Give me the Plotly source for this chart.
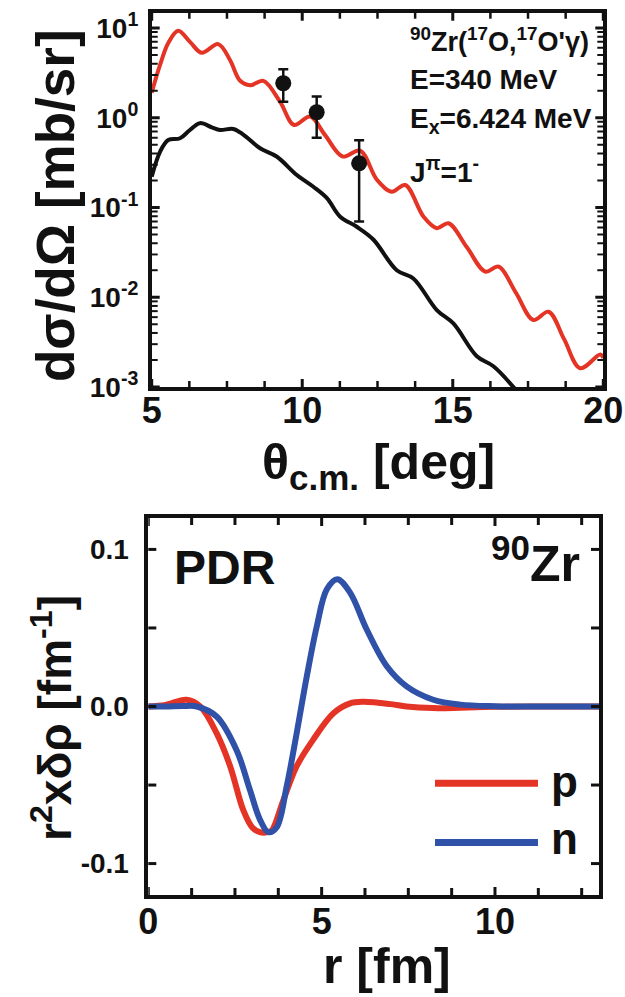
import plotly.graph_objects as go

W, H = 625, 997

# ---- upper panel: angular distribution 90Zr(17O,17O'g), E=340 MeV, Ex=6.424 MeV, J^pi=1- ----
theta_red = [5.00, 5.28, 5.55, 5.88, 6.27, 6.66, 7.21, 7.60, 7.93, 8.27, 8.71, 9.26,
             9.73, 10.26, 10.76, 11.34, 11.92, 12.48, 12.97, 13.42, 14.03, 14.47,
             14.86, 15.47, 16.08, 16.52, 17.10, 17.68, 18.18, 18.70, 19.23, 19.90, 20.00]
sigma_red = [1.9, 3.9, 6.8, 9.3, 7.0, 5.3, 6.6, 4.4, 2.6, 2.3, 2.57, 1.51,
             0.83, 1.03, 0.64, 0.37, 0.43, 0.204, 0.15, 0.178, 0.079, 0.0588,
             0.0667, 0.036, 0.0193, 0.0219, 0.0112, 0.00557, 0.0069, 0.0034, 0.00162, 0.0023, 0.0021]

theta_black = [5.00, 5.28, 5.55, 5.94, 6.25, 6.60, 7.00, 7.27, 7.71, 8.05, 8.60, 9.15,
               9.82, 10.37, 10.82, 11.26, 11.81, 12.36, 13.14, 13.69, 14.47, 15.02,
               15.80, 16.35, 17.07]
sigma_black = [0.22, 0.42, 0.565, 0.59, 0.72, 0.87, 0.78, 0.73, 0.75, 0.645, 0.457, 0.37,
               0.23, 0.17, 0.127, 0.079, 0.061, 0.044, 0.020, 0.0162, 0.0072, 0.0051,
               0.0022, 0.0017, 0.00095]

theta_exp = [9.37, 10.48, 11.89]
sigma_exp = [2.42, 1.15, 0.31]
err_plus = [1.05, 0.57, 0.25]
err_minus = [0.91, 0.55, 0.24]

theta_ticks = [5, 10, 15, 20]
y_tick_vals = [1e-3, 1e-2, 1e-1, 1e0, 1e1]
y_tick_text = ["10<sup>-3</sup>", "10<sup>-2</sup>", "10<sup>-1</sup>", "10<sup>0</sup>", "10<sup>1</sup>"]

# ---- lower panel: PDR transition densities in 90Zr ----
r_p = [0.0, 0.5, 1.1, 1.5, 1.97, 2.36, 2.74, 3.00, 3.22, 3.45, 3.56, 3.89, 4.28,
       4.76, 5.34, 5.82, 6.20, 7.00, 7.45, 8.20, 9.00, 10.0, 11.0, 13.0]
rho_p = [0.0, 0.001, 0.0043, 0.0, -0.017, -0.038, -0.066, -0.077, -0.080, -0.080, -0.079,
         -0.060, -0.038, -0.021, -0.0043, 0.002, 0.003, 0.0015, 0.0, -0.001, -0.0008,
         -0.0002, 0.0, 0.0]

r_n = [0.0, 0.5, 1.0, 1.4, 1.97, 2.55, 2.93, 3.22, 3.46, 3.70, 3.99, 4.28, 4.57,
       4.86, 5.15, 5.45, 5.82, 6.30, 6.88, 7.45, 8.22, 9.0, 10.0, 11.0, 13.0]
rho_n = [0.0, 0.0, 0.0003, 0.0, -0.0064, -0.028, -0.053, -0.072, -0.080, -0.077, -0.051,
         -0.017, 0.019, 0.051, 0.0746, 0.081, 0.0725, 0.049, 0.0256, 0.0128, 0.0043,
         0.0012, 0.0002, 0.0, 0.0]

r_ticks = [0, 5, 10]
rho_tick_vals = [-0.1, 0.0, 0.1]
rho_tick_text = ["-0.1", "0.0", "0.1"]

RED = "rgb(228,52,37)"
BLUE = "rgb(47,82,168)"
BLACK = "rgb(17,17,17)"
FONT = "Liberation Sans"

# minor tick positions (quarter steps between labelled ticks, 2..9 within each decade)
theta_minor = [5 + 1.25 * k for k in range(13) if k % 4 != 0]
r_minor = [1.25 * k for k in range(11) if k % 4 != 0]
log_minor = [k * 10 ** e for e in range(-3, 1) for k in range(2, 10)]
rho_minor = [-0.05, 0.05]


def px(x):
    return x / W


def py(y):
    return 1 - y / H


fig = go.Figure()

fig.add_trace(go.Scatter(x=theta_red, y=sigma_red, mode="lines",
                         line=dict(color=RED, width=4, shape="spline", smoothing=1.0),
                         xaxis="x", yaxis="y", showlegend=False))
fig.add_trace(go.Scatter(x=theta_black, y=sigma_black, mode="lines",
                         line=dict(color=BLACK, width=4, shape="spline", smoothing=1.0),
                         xaxis="x", yaxis="y", showlegend=False))
fig.add_trace(go.Scatter(x=theta_exp, y=sigma_exp, mode="markers",
                         marker=dict(color=BLACK, size=16, symbol="circle"),
                         error_y=dict(type="data", symmetric=False, array=err_plus,
                                      arrayminus=err_minus, color=BLACK, thickness=2.5, width=5),
                         xaxis="x", yaxis="y", showlegend=False))

fig.add_trace(go.Scatter(x=r_p, y=rho_p, mode="lines", name="p",
                         line=dict(color=RED, width=6, shape="spline", smoothing=1.0),
                         xaxis="x2", yaxis="y2", showlegend=False))
fig.add_trace(go.Scatter(x=r_n, y=rho_n, mode="lines", name="n",
                         line=dict(color=BLUE, width=6, shape="spline", smoothing=1.0),
                         xaxis="x2", yaxis="y2", showlegend=False))

axis_common = dict(showline=True, linecolor=BLACK, linewidth=3.5, mirror=True, ticks="",
                   showgrid=False, zeroline=False, automargin=False)

tick_font_x = dict(family=FONT, size=36, weight="bold", color=BLACK)
tick_font_y = dict(family=FONT, size=28, weight="bold", color=BLACK)

fig.update_layout(
    width=W, height=H,
    margin=dict(l=0, r=0, t=0, b=0, autoexpand=False),
    paper_bgcolor="white", plot_bgcolor="white",
    font=dict(family=FONT, color=BLACK, weight="bold"),
    xaxis=dict(domain=[px(151.7), px(603.3)], range=[5, 20], anchor="y",
               tickvals=theta_ticks, ticktext=[str(v) for v in theta_ticks],
               tickfont=tick_font_x, ticklabelstandoff=-11, **axis_common),
    yaxis=dict(domain=[py(387), py(12.7)], type="log", range=[-3, 1.17], anchor="x",
               tickvals=y_tick_vals, ticktext=y_tick_text,
               tickfont=tick_font_y, ticklabelstandoff=4, **axis_common),
    xaxis2=dict(domain=[px(148.3), px(599)], range=[0, 13], anchor="y2",
                tickvals=r_ticks, ticktext=[str(v) for v in r_ticks],
                tickfont=tick_font_x, ticklabelstandoff=-8, **axis_common),
    yaxis2=dict(domain=[py(895), py(518)], range=[-0.12, 0.12], anchor="x2",
                tickvals=rho_tick_vals, ticktext=rho_tick_text,
                tickfont=tick_font_y, ticklabelstandoff=10, **axis_common),
)


# inward tick marks on all four sides of each frame
def x_ticks(xref, vals, length, width):
    yref = "y domain" if xref == "x" else "y2 domain"
    for v in vals:
        for anchor, sign in ((0, 1), (1, -1)):
            fig.add_shape(type="line", xref=xref, yref=yref, x0=v, x1=v,
                          ysizemode="pixel", yanchor=anchor, y0=0, y1=sign * length,
                          line=dict(color=BLACK, width=width))


def y_ticks(yref, vals, length, width):
    xref = "x domain" if yref == "y" else "x2 domain"
    for v in vals:
        for anchor, sign in ((0, 1), (1, -1)):
            fig.add_shape(type="line", xref=xref, yref=yref, y0=v, y1=v,
                          xsizemode="pixel", xanchor=anchor, x0=0, x1=sign * length,
                          line=dict(color=BLACK, width=width))


x_ticks("x", theta_ticks, 8, 3)
x_ticks("x", theta_minor, 6, 2.5)
y_ticks("y", y_tick_vals, 8, 3)
y_ticks("y", log_minor, 6, 2)
x_ticks("x2", r_ticks, 8, 3)
x_ticks("x2", r_minor, 7, 3)
y_ticks("y2", rho_tick_vals, 8, 3)
y_ticks("y2", rho_minor, 8, 3)

# legend of the lower panel
fig.add_shape(type="line", xref="x2", yref="y2", x0=8.27, x1=11.24, y0=-0.0488, y1=-0.0488,
              line=dict(color=RED, width=7))
fig.add_shape(type="line", xref="x2", yref="y2", x0=8.27, x1=11.24, y0=-0.0865, y1=-0.0865,
              line=dict(color=BLUE, width=7))


def label(text, x, y, size, xanchor="center", yanchor="middle", angle=0):
    fig.add_annotation(text=text, x=px(x), y=py(y), xref="paper", yref="paper",
                       xanchor=xanchor, yanchor=yanchor, textangle=angle, showarrow=False,
                       font=dict(family=FONT, size=size, color=BLACK, weight="bold"))


# axis titles
label("dσ/dΩ [mb/sr]", 56, 206, 53, angle=-90)
label("θ<sub>c.m.</sub> [deg]", 378, 466, 50)
label("r<sup>2</sup>xδρ [fm<sup>-1</sup>]", 52, 718, 46, angle=-90)
label("r [fm]", 387, 966, 50)

# upper panel text
label("<sup>90</sup>Zr(<sup>17</sup>O,<sup>17</sup>O'γ)", 408, 40, 27, xanchor="left")
label("E=340 MeV", 408, 80, 28, xanchor="left")
label("E<sub>x</sub>=6.424 MeV", 408, 120, 28, xanchor="left")
label("J<sup>π</sup>=1<sup>-</sup>", 408, 170, 28, xanchor="left")

# lower panel text
label("PDR", 172, 567, 48, xanchor="left")
label("<sup>90</sup>Zr", 582, 560, 50, xanchor="right")
label("p", 549, 781, 44, xanchor="left")
label("n", 549, 838, 44, xanchor="left")

fig.write_html("out.html")
